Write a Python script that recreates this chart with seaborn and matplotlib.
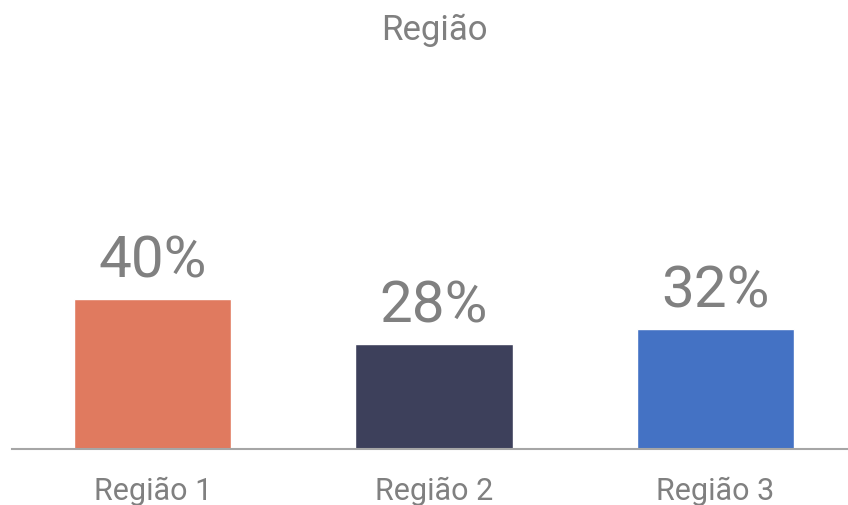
import matplotlib
matplotlib.use("Agg")
import matplotlib.pyplot as plt
import seaborn as sns
import pandas as pd

categories = ["Região 1", "Região 2", "Região 3"]
values = [40, 28, 32]
labels = ["40%", "28%", "32%"]
colors = ["#E07A5F", "#3D405B", "#4472C4"]
title = "Região"

sns.set_style("white")
plt.rcParams['font.family'] = ['Roboto', 'DejaVu Sans']

df = pd.DataFrame({"cat": categories, "val": values})

fig = plt.figure(figsize=(8.48, 5.06), dpi=100)
ax = fig.add_axes([12/848, 56/506, 844/848, 375/506])
sns.barplot(data=df, x="cat", y="val", hue="cat", palette=colors, width=0.559,
            legend=False, ax=ax, saturation=1)
ax.set_ylim(0, 100)
ax.set_xlim(-0.5, 2.5)
for i, (v, l) in enumerate(zip(values, labels)):
    ax.annotate(l, (i, v), xytext=(0, 16), textcoords="offset points",
                ha="center", va="baseline", fontsize=42, color="#808080")
for s in ["top", "right", "left"]:
    ax.spines[s].set_visible(False)
ax.spines["bottom"].set_color("#A6A6A6")
ax.spines["bottom"].set_linewidth(1.5)
ax.set_yticks([])
ax.set_xlabel("")
ax.set_ylabel("")
ax.tick_params(axis="x", length=0, pad=19, labelsize=22, labelcolor="#808080")
fig.text(434/848, 1 - 30/506, title, ha="center", va="center", fontsize=25, color="#808080")
fig.savefig("out.png", dpi=100)
